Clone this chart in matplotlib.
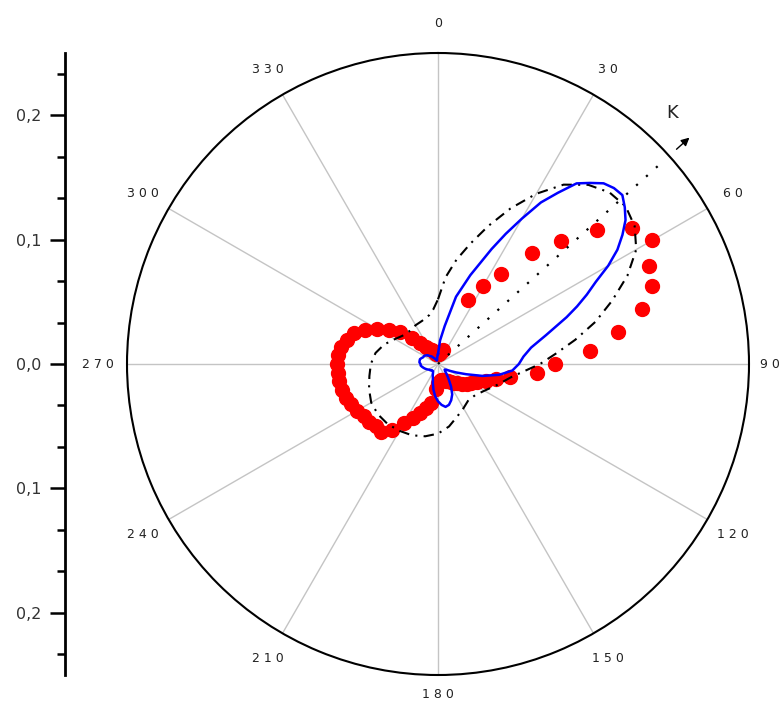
import numpy as np
import matplotlib
matplotlib.use('Agg')
import matplotlib.pyplot as plt
from matplotlib.ticker import FixedLocator

# ---------------- data ----------------
theta_ticks = [0, 30, 60, 90, 120, 150, 180, 210, 240, 270, 300, 330]
theta_labels = ['0', '3 0', '6 0', '9 0', '1 2 0', '1 5 0', '1 8 0',
                '2 1 0', '2 4 0', '2 7 0', '3 0 0', '3 3 0']
r_ticks = [-0.2, -0.1, 0.0, 0.1, 0.2]
r_labels = ['0,2', '0,1', '0,0', '0,1', '0,2']

# blue solid curve (degrees, clockwise from north)
blue_theta = [0, 5, 10, 15, 20, 25, 27.5, 30, 32.5, 35, 37.5, 40, 42.5, 45, 47.5,
              50, 52.5, 55, 57.5, 60, 62.5, 65, 67.5, 70, 75, 80, 85, 90, 95,
              100, 105, 110, 115, 120, 125, 130, 135, 140, 145, 150, 155, 160,
              165, 170, 175, 180, 185, 190, 195, 200, 205, 210, 215, 220, 225,
              230, 235, 240, 245, 250, 255, 260, 265, 270, 275, 280, 285, 290,
              295, 300, 305, 310, 315, 320, 325, 330, 335, 340, 345, 350, 355, 360]
blue_r = [0.008, 0.019, 0.031, 0.056, 0.076, 0.102, 0.118, 0.135, 0.154, 0.168,
          0.183, 0.190, 0.197, 0.200, 0.201, 0.196, 0.190, 0.181, 0.171, 0.158,
          0.143, 0.132, 0.121, 0.110, 0.090, 0.076, 0.069, 0.065, 0.060, 0.050,
          0.037, 0.024, 0.016, 0.011, 0.008, 0.007, 0.008, 0.011, 0.015, 0.021,
          0.027, 0.031, 0.034, 0.035, 0.033, 0.030, 0.026, 0.021, 0.016, 0.012,
          0.010, 0.008, 0.007, 0.007, 0.007, 0.008, 0.008, 0.009, 0.010, 0.011,
          0.012, 0.013, 0.014, 0.014, 0.015, 0.015, 0.015, 0.014, 0.013, 0.013,
          0.012, 0.011, 0.009, 0.008, 0.006, 0.005, 0.004, 0.003, 0.003, 0.004,
          0.006, 0.008]

# red markers, every 5 degrees
red_theta = list(range(0, 360, 5))
red_r = [0.008, 0.008, 0.009, 0.010, 0.012, 0.057, 0.072, 0.088, 0.117, 0.140,
         0.167, 0.190, 0.199, 0.187, 0.183, 0.170, 0.147, 0.123, 0.094, 0.080,
         0.059, 0.048, 0.041, 0.035, 0.031, 0.028, 0.025, 0.022, 0.020, 0.018,
         0.016, 0.015, 0.014, 0.013, 0.013, 0.014, 0.015, 0.020, 0.032, 0.037,
         0.042, 0.048, 0.055, 0.065, 0.071, 0.071, 0.072, 0.073, 0.075, 0.077,
         0.079, 0.080, 0.081, 0.081, 0.081, 0.081, 0.079, 0.076, 0.072, 0.065,
         0.057, 0.048, 0.040, 0.030, 0.022, 0.017, 0.014, 0.012, 0.010, 0.009,
         0.008, 0.008]

# black dash-dot curve
ell_theta = [0, 5, 10, 15, 20, 25, 30, 35, 40, 45, 50, 55, 60, 65, 70, 75, 80,
             85, 90, 100, 110, 120, 130, 140, 150, 160, 170, 180, 190, 200, 210,
             220, 230, 240, 250, 260, 270, 280, 290, 300, 310, 320, 330, 340,
             350, 355, 360]
ell_r = [0.052, 0.070, 0.085, 0.100, 0.118, 0.138, 0.158, 0.176, 0.188, 0.195,
         0.197, 0.193, 0.184, 0.168, 0.149, 0.131, 0.112, 0.095, 0.082, 0.060,
         0.050, 0.043, 0.039, 0.038, 0.041, 0.045, 0.051, 0.056, 0.059, 0.061,
         0.062, 0.063, 0.063, 0.062, 0.059, 0.056, 0.054, 0.051, 0.046, 0.040,
         0.036, 0.035, 0.036, 0.037, 0.040, 0.044, 0.052]

# direction K (dotted line with arrow)
k_angle = 48
k_r = 0.243

# ---------------- figure ----------------
W, H = 784, 704
fig = plt.figure(figsize=(W / 100, H / 100), dpi=100)
fig.patch.set_facecolor('white')

cx, cy, R = 438, 364, 311
ax = fig.add_axes([(cx - R) / W, (H - cy - R) / H, 2 * R / W, 2 * R / H],
                  projection='polar')
ax.set_theta_zero_location('N')
ax.set_theta_direction(-1)
ax.set_ylim(0, 0.25)
ax.set_yticks([])
ax.set_xticks(np.radians(theta_ticks))
ax.set_xticklabels([])
ax.xaxis.grid(True, color='#c4c4c4', lw=1.0)
ax.tick_params(axis='x', direction='in', length=6, width=1.2, colors='black',
               pad=0)
ax.spines['polar'].set_linewidth(1.5)
ax.spines['polar'].set_color('black')

for t, lab in zip(theta_ticks, theta_labels):
    rr = 0.2735
    if t == 90:
        rr = 0.267
    elif t == 180:
        rr = 0.2655
    ax.text(np.radians(t), rr, lab, ha='center', va='center',
            fontsize=9, color='#222222', family='DejaVu Sans', clip_on=False)

# red markers
ax.plot(np.radians(red_theta), red_r, ls='none', marker='o', ms=10,
        color='#ff0000', mec='#ff0000', zorder=3)

# dash-dot curve
ax.plot(np.radians(ell_theta), ell_r, color='black', lw=1.5,
        ls=(0, (5, 3, 1, 3)), zorder=4)

# dotted K line
ax.plot(np.radians([k_angle, k_angle]), [0, k_r], color='black', lw=1.6,
        ls=(0, (1, 5)), zorder=4)
ax.annotate('', xy=(np.radians(k_angle), 0.272),
            xytext=(np.radians(k_angle), 0.258),
            arrowprops=dict(arrowstyle='-|>', color='black', lw=1.0,
                            mutation_scale=12, shrinkA=0, shrinkB=0),
            annotation_clip=False)
ax.text(np.radians(43), 0.276, 'K', fontsize=13, ha='center', va='center',
        color='#222222', clip_on=False)

# blue line
ax.plot(np.radians(blue_theta), blue_r, color='#0000ff', lw=1.8, zorder=5)

# ---------------- left radial scale ----------------
axl = fig.add_axes([65 / W, (H - cy - R) / H, 0.0001, 2 * R / H])
axl.set_ylim(-0.25, 0.25)
axl.set_xticks([])
for s in ['top', 'right', 'bottom']:
    axl.spines[s].set_visible(False)
axl.spines['left'].set_linewidth(2.0)
axl.set_yticks(r_ticks)
axl.set_yticklabels(r_labels)
minor = [v / 30 for v in range(-7, 8) if v % 3 != 0]
axl.yaxis.set_minor_locator(FixedLocator(minor))
axl.tick_params(axis='y', which='major', length=11, width=1.8, pad=6,
                labelsize=11.5, labelcolor='#333333')
axl.tick_params(axis='y', which='minor', length=6, width=1.8)
axl.patch.set_visible(False)

fig.savefig('out.png', dpi=100, facecolor='white')
